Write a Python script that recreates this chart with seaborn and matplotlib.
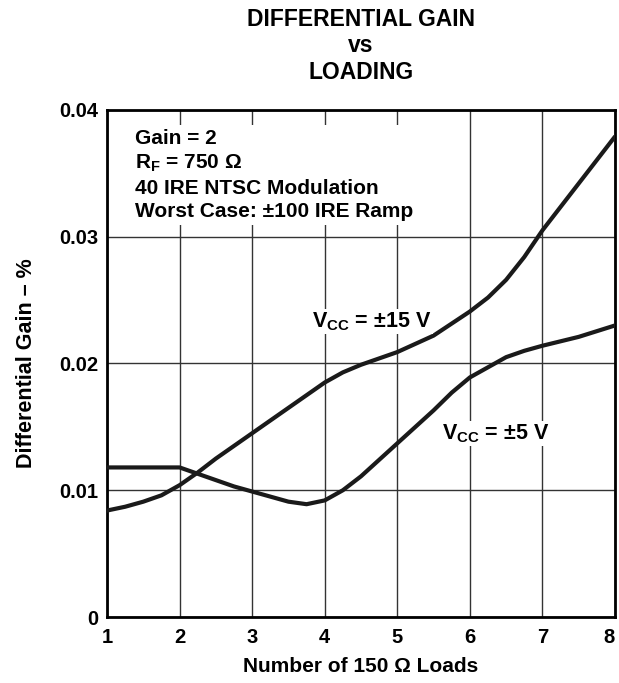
import numpy as np
import pandas as pd
import matplotlib
matplotlib.use("Agg")
import matplotlib.pyplot as plt
import matplotlib.transforms as mtransforms
import seaborn as sns

sns.set_style("white")
plt.rcParams['font.family'] = ['Liberation Sans', 'DejaVu Sans']
plt.rcParams['font.weight'] = 'bold'
plt.rcParams['text.color'] = 'black'
plt.rcParams['axes.labelcolor'] = 'black'
plt.rcParams['xtick.color'] = 'black'
plt.rcParams['ytick.color'] = 'black'
plt.rcParams['mathtext.fontset'] = 'custom'
plt.rcParams['mathtext.rm'] = 'Liberation Sans:bold'
plt.rcParams['mathtext.bf'] = 'Liberation Sans:bold'

# curves
loads_15v = [1, 1.25, 1.5, 1.75, 2, 2.25, 2.5, 3, 3.5, 4, 4.25, 4.5, 4.75, 5, 5.5, 6,
             6.25, 6.5, 6.75, 7, 7.5, 8]
gain_15v = [0.0084, 0.0087, 0.0091, 0.0096, 0.0104, 0.0114, 0.0125, 0.0145, 0.0165,
            0.0185, 0.0193, 0.0199, 0.0204, 0.0209, 0.0222, 0.0241, 0.0252, 0.0266,
            0.0284, 0.0305, 0.0342, 0.0379]
loads_5v = [1, 1.5, 2, 2.25, 2.5, 2.75, 3, 3.25, 3.5, 3.75, 4, 4.25, 4.5, 4.75, 5, 5.25,
            5.5, 5.75, 6, 6.25, 6.5, 6.75, 7, 7.5, 8]
gain_5v = [0.0118, 0.0118, 0.0118, 0.0113, 0.0108, 0.0103, 0.0099, 0.0095, 0.0091,
           0.0089, 0.0092, 0.0100, 0.0111, 0.0124, 0.0137, 0.0150, 0.0163, 0.0177,
           0.0189, 0.0197, 0.0205, 0.0210, 0.0214, 0.0221, 0.0230]

x_ticks = [1, 2, 3, 4, 5, 6, 7, 8]
y_ticks = [0, 0.01, 0.02, 0.03, 0.04]
y_tick_labels = ["0", "0.01", "0.02", "0.03", "0.04"]

df = pd.concat([
    pd.DataFrame({"loads": loads_15v, "gain": gain_15v, "vcc": "15V"}),
    pd.DataFrame({"loads": loads_5v, "gain": gain_5v, "vcc": "5V"}),
])

fig = plt.figure(figsize=(6.19, 6.83), dpi=100)
ax = fig.add_axes([0.1729, 0.0966, 0.8206, 0.7424])

sns.lineplot(data=df, x="loads", y="gain", hue="vcc", palette=["#1a1a1a", "#1a1a1a"],
             linewidth=3, legend=False, ax=ax, zorder=3)

ax.set_xlim(1, 8)
ax.set_ylim(0, 0.04)
ax.set_xticks(x_ticks)
ax.set_xticklabels([str(t) for t in x_ticks])
ax.set_yticks(y_ticks)
ax.set_yticklabels(y_tick_labels)
ax.tick_params(length=0, labelsize=14.5)
ax.tick_params(axis="y", pad=6.5)
ax.tick_params(axis="x", pad=8)
ax.grid(True, color="0.2", linewidth=1.0)
for s in ax.spines.values():
    s.set_color("black")
    s.set_linewidth(2)

# the last x label sits at the figure edge, nudge it in a little
last = ax.get_xticklabels()[-1]
last.set_transform(last.get_transform() + mtransforms.ScaledTranslation(-4 / 72, 0, fig.dpi_scale_trans))

ax.set_xlabel("Number of 150 Ω Loads", fontsize=15, fontweight="bold", labelpad=7)
ax.set_ylabel("Differential Gain – %", fontsize=15.5, fontweight="bold", labelpad=16)

fig.text(0.583, 0.972, "DIFFERENTIAL GAIN", ha="center", va="center", fontsize=16.5, fontweight="bold")
fig.text(0.583, 0.934, "vs", ha="center", va="center", fontsize=16.5, fontweight="bold")
fig.text(0.583, 0.894, "LOADING", ha="center", va="center", fontsize=16.5, fontweight="bold")

ax.text(1.38, 0.0385, "Gain = 2\n$\\mathbf{R_F}$ = 750 Ω\n40 IRE NTSC Modulation\nWorst Case: ±100 IRE Ramp",
        ha="left", va="top", fontsize=15, fontweight="bold", linespacing=1.3, zorder=4,
        bbox=dict(facecolor="white", edgecolor="none", pad=3))
ax.text(3.83, 0.0233, "$\\mathbf{V_{CC}}$ = ±15 V", ha="left", va="center", fontsize=15.5,
        fontweight="bold", zorder=4, bbox=dict(facecolor="white", edgecolor="none", pad=1))
ax.text(5.62, 0.0145, "$\\mathbf{V_{CC}}$ = ±5 V", ha="left", va="center", fontsize=15.5,
        fontweight="bold", zorder=4, bbox=dict(facecolor="white", edgecolor="none", pad=1))

fig.savefig("out.png", dpi=100)
